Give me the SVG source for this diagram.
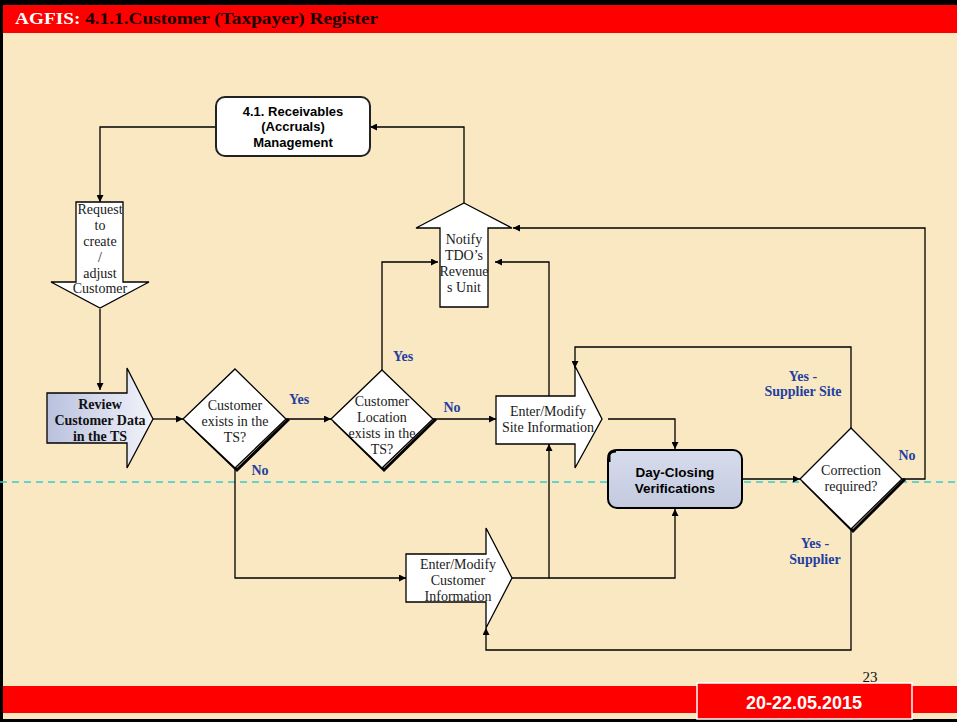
<svg xmlns="http://www.w3.org/2000/svg" width="957" height="722" viewBox="0 0 957 722">
<defs>
<linearGradient id="blueg" x1="0" y1="0" x2="1" y2="0">
<stop offset="0" stop-color="#B9C1DE"/><stop offset="1" stop-color="#F2F3FA"/>
</linearGradient>
<linearGradient id="dayg" x1="0" y1="0" x2="0" y2="1">
<stop offset="0" stop-color="#D7DCEC"/><stop offset="1" stop-color="#C3CADF"/>
</linearGradient>
<marker id="ah" viewBox="0 0 10 10" refX="10" refY="5" markerWidth="7" markerHeight="7" markerUnits="userSpaceOnUse" orient="auto">
<path d="M0,0 L10,5 L0,10 z" fill="#000"/>
</marker>
<style>
.ln{fill:none;stroke:#000;stroke-width:1.3;marker-end:url(#ah)}
.shape{fill:#fff;stroke:#000;stroke-width:1.3}
.dia{fill:#fff;stroke:#000;stroke-width:1.3}
.sh{fill:none;stroke:#000;stroke-width:3}
.serif{font-family:"Liberation Serif","DejaVu Serif",serif;font-size:14px;fill:#1a1a1a;text-anchor:middle}
.sans{font-family:"Liberation Sans",Arial,sans-serif;font-weight:bold;fill:#000;text-anchor:middle}
.lab{font-family:"Liberation Serif","DejaVu Serif",serif;font-weight:bold;font-size:14px;fill:#1F3FA0;text-anchor:middle}
.rev{font-family:"Liberation Serif","DejaVu Serif",serif;font-weight:bold;font-size:14px;fill:#111;text-anchor:middle}
</style>
</defs>
<rect x="0" y="0" width="957" height="722" fill="#F9E8C1"/>
<rect x="0" y="0" width="957" height="5" fill="#000"/>
<rect x="0" y="0" width="3" height="722" fill="#000"/>
<rect x="3" y="5" width="954" height="28" fill="#FF0000"/>
<text x="15" y="24" font-family="'Liberation Serif','DejaVu Serif',serif" font-weight="bold" font-size="17" textLength="363" lengthAdjust="spacingAndGlyphs"><tspan fill="#fff">AGFIS: </tspan><tspan fill="#1a0000">4.1.1.Customer (Taxpayer) Register</tspan></text>
<rect x="3" y="686" width="954" height="27" fill="#FF0000"/>
<rect x="0" y="719" width="957" height="3" fill="#000"/>
<rect x="697" y="683" width="215" height="36" fill="#FF0000" stroke="#fff" stroke-width="1.5"/>
<text x="804" y="709" class="sans" font-size="18" style="fill:#fff">20-22.05.2015</text>
<text x="870" y="682" font-family="'Liberation Serif','DejaVu Serif',serif" font-size="15" fill="#111" text-anchor="middle">23</text>
<line x1="0" y1="482" x2="957" y2="482" stroke="#33CCCC" stroke-width="1.5" stroke-dasharray="7,5"/>

<g id="connectors">
<polyline class="ln" points="216,127 100,127 100,202"/>
<polyline class="ln" points="100,309 100,390"/>
<polyline class="ln" points="153,419 183,419"/>
<polyline class="ln" points="286,419 331,419"/>
<polyline class="ln" points="382,370 382,262 438,262"/>
<polyline class="ln" points="433,419 496,419"/>
<polyline class="ln" points="464,203 464,127 370,127"/>
<polyline class="ln" points="902,479 925,479 925,228 513,228"/>
<polyline class="ln" points="549,396 549,262 495,262"/>
<polyline class="ln" points="512,578 549,578 549,444"/>
<polyline class="ln" points="549,578 675,578 675,509"/>
<polyline class="ln" points="851,428 851,347 575,347 575,368"/>
<polyline class="ln" points="608,419 675,419 675,449"/>
<polyline class="ln" points="742,479 800,479"/>
<polyline class="ln" points="851,529 851,650 486,650 486,628"/>
<polyline class="ln" points="235,468 235,578 406,578"/>
</g>

<g id="labels">
<text class="lab" x="299" y="404">Yes</text>
<text class="lab" x="403" y="361">Yes</text>
<text class="lab" x="452" y="412">No</text>
<text class="lab" x="260" y="475">No</text>
<text class="lab" x="907" y="460">No</text>
<text class="lab" x="803" y="381">Yes -</text>
<text class="lab" x="803" y="396">Supplier Site</text>
<text class="lab" x="815" y="548">Yes -</text>
<text class="lab" x="815" y="564">Supplier</text>
</g>

<g id="receivables">
<rect x="216" y="97" width="154" height="59" rx="9" fill="#fff" stroke="#222" stroke-width="2"/>
<text class="sans" font-size="13" x="293" y="116">4.1. Receivables</text>
<text class="sans" font-size="13" x="293" y="131">(Accruals)</text>
<text class="sans" font-size="13" x="293" y="147">Management</text>
</g>

<g id="request">
<path class="shape" d="M76,202 L123,202 L123,282 L149,282 L100,308 L51,282 L76,282 Z"/>
<text class="serif" x="100" y="214">Request</text>
<text class="serif" x="100" y="230">to</text>
<text class="serif" x="100" y="246">create</text>
<text class="serif" x="100" y="262">/</text>
<text class="serif" x="100" y="278">adjust</text>
<text class="serif" x="100" y="293">Customer</text>
</g>

<g id="review">
<path d="M47,393 L127,393 L127,368 L153,419 L127,468 L127,443 L47,443 Z" fill="url(#blueg)" stroke="#000" stroke-width="1.3"/>
<text class="rev" x="100" y="409">Review</text>
<text class="rev" x="100" y="425">Customer Data</text>
<text class="rev" x="100" y="441">in the TS</text>
</g>

<g id="exists">
<path class="sh" d="M289,419 L237,470 L186,421"/>
<path class="dia" d="M235,369 L286,419 L235,468 L183,419 Z"/>
<text class="serif" x="235" y="410">Customer</text>
<text class="serif" x="235" y="426">exists in the</text>
<text class="serif" x="235" y="442">TS?</text>
</g>

<g id="location">
<path class="sh" d="M436,419 L384,470 L334,421"/>
<path class="dia" d="M382,370 L433,419 L382,468 L331,419 Z"/>
<text class="serif" x="382" y="406">Customer</text>
<text class="serif" x="382" y="422">Location</text>
<text class="serif" x="382" y="438">exists in the</text>
<text class="serif" x="382" y="454">TS?</text>
</g>

<g id="notify">
<path class="shape" d="M464,203 L512,228 L488,228 L488,307 L440,307 L440,228 L416,228 Z"/>
<text class="serif" x="464" y="244">Notify</text>
<text class="serif" x="464" y="260">TDO’s</text>
<text class="serif" x="464" y="276">Revenue</text>
<text class="serif" x="464" y="292">s Unit</text>
</g>

<g id="site">
<path class="shape" d="M496,396 L575,396 L575,366 L602,419 L575,468 L575,444 L496,444 Z"/>
<text class="serif" x="548" y="416">Enter/Modify</text>
<text class="serif" x="548" y="432">Site Information</text>
</g>

<g id="custinfo">
<path class="shape" d="M406,554 L486,554 L486,528 L512,578 L486,628 L486,602 L406,602 Z"/>
<text class="serif" x="458" y="569">Enter/Modify</text>
<text class="serif" x="458" y="585">Customer</text>
<text class="serif" x="458" y="601">Information</text>
</g>

<g id="dayclosing">
<rect x="608" y="450" width="134" height="58" rx="9" fill="url(#dayg)" stroke="#000" stroke-width="2"/>
<path d="M609,462 L609,455 Q610,451 616,451" fill="none" stroke="#000" stroke-width="3"/>
<text class="sans" font-size="13.5" x="675" y="477">Day-Closing</text>
<text class="sans" font-size="13.5" x="675" y="493">Verifications</text>
</g>

<g id="correction">
<path class="sh" d="M905,479 L853,531 L803,481"/>
<path class="dia" d="M851,428 L902,479 L851,529 L800,479 Z"/>
<text class="serif" x="851" y="475">Correction</text>
<text class="serif" x="851" y="491">required?</text>
</g>
</svg>
